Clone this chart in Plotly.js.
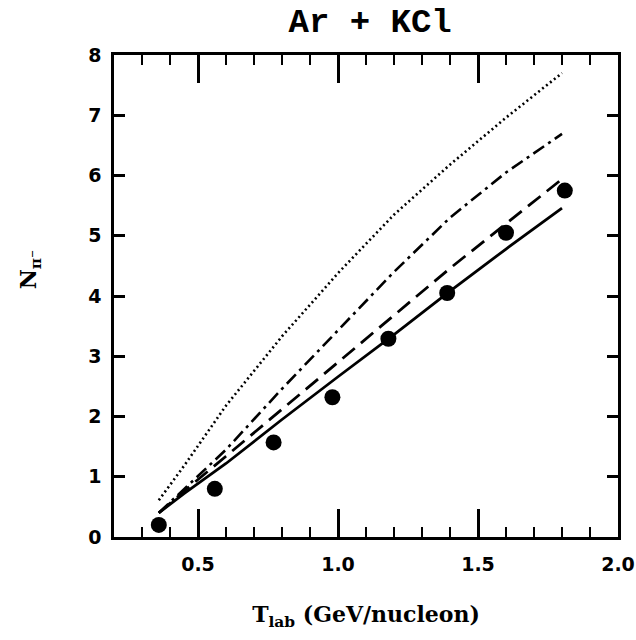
<!DOCTYPE html>
<html>
<head>
<meta charset="utf-8">
<script src="https://cdn.plot.ly/plotly-3.0.1.min.js"></script>
<style>html,body{margin:0;padding:0;background:#fff;}#chart{width:636px;height:640px;}</style>
</head>
<body>
<div id="chart"></div>
<script>
// Measured data (black circles)
const dataX = [0.36, 0.56, 0.77, 0.98, 1.18, 1.39, 1.60, 1.81];
const dataY = [0.20, 0.80, 1.57, 2.32, 3.29, 4.05, 5.05, 5.75];

// Model curves
const curveX = [0.36, 0.45, 0.6, 0.8, 1.0, 1.2, 1.4, 1.6, 1.8];
const solidY   = [0.40, 0.72, 1.22, 1.95, 2.66, 3.36, 4.08, 4.78, 5.46];
const dashedY  = [0.40, 0.76, 1.34, 2.12, 2.90, 3.68, 4.46, 5.20, 5.94];
const dashDotY = [0.40, 0.80, 1.45, 2.46, 3.43, 4.40, 5.30, 6.05, 6.69];
const dottedY  = [0.61, 1.18, 2.18, 3.33, 4.38, 5.35, 6.18, 6.96, 7.70];

// Axes
const xRange = [0.2, 2.0];
const yRange = [0, 8];

const black = '#000';
const traces = [
  {x: curveX, y: dottedY, mode: 'lines', line: {color: black, width: 2.6, dash: '2px,3px'}, hoverinfo: 'skip'},
  {x: curveX, y: dashDotY, mode: 'lines', line: {color: black, width: 2.6, dash: '13px,5px,3px,5px'}, hoverinfo: 'skip'},
  {x: curveX, y: dashedY, mode: 'lines', line: {color: black, width: 2.8, dash: '16px,8px'}, hoverinfo: 'skip'},
  {x: curveX, y: solidY, mode: 'lines', line: {color: black, width: 2.8}, hoverinfo: 'skip'},
  {x: dataX, y: dataY, mode: 'markers', marker: {color: black, size: 16, symbol: 'circle'}}
];

const tickFont = {family: '"DejaVu Sans", "Liberation Sans", sans-serif', size: 19, color: black, weight: 'bold'};
const labelFont = {family: '"DejaVu Serif", "Liberation Serif", serif', size: 22, color: black, weight: 'bold'};

const layout = {
  width: 636, height: 640,
  margin: {l: 114, r: 18, t: 55, b: 103},
  paper_bgcolor: '#fff', plot_bgcolor: '#fff',
  showlegend: false,
  title: {
    text: 'Ar + KCl',
    font: {family: '"Liberation Mono", "DejaVu Sans Mono", monospace', size: 34, color: black, weight: 'bold'},
    x: 0.582, xanchor: 'center', xref: 'container',
    y: 0.968, yanchor: 'middle', yref: 'container'
  },
  xaxis: {
    range: xRange,
    tickmode: 'linear', tick0: 0.5, dtick: 0.5, tickformat: '.1f',
    ticks: 'inside', ticklen: 28, tickwidth: 2.5, tickcolor: black,
    minor: {tickmode: 'linear', tick0: 0, dtick: 0.1, ticks: 'inside', ticklen: 10, tickwidth: 2, tickcolor: black, showgrid: false},
    showline: true, linecolor: black, linewidth: 2.5, mirror: 'ticks',
    showgrid: false, zeroline: false,
    tickfont: tickFont,
    ticklabelstandoff: 8,
    title: {text: 'T<sub>lab</sub> (GeV/nucleon)', font: labelFont, standoff: 34}
  },
  yaxis: {
    range: yRange,
    tickmode: 'linear', tick0: 0, dtick: 1,
    ticks: 'inside', ticklen: 11, tickwidth: 2.5, tickcolor: black,
    showline: true, linecolor: black, linewidth: 2.5, mirror: 'ticks',
    showgrid: false, zeroline: false,
    tickfont: tickFont,
    ticklabelstandoff: 6
  },
  annotations: [{
    text: 'N<sub>π⁻</sub>',
    font: labelFont,
    textangle: -90,
    xref: 'paper', yref: 'paper',
    x: -0.165, y: 0.555, xanchor: 'center', yanchor: 'middle',
    showarrow: false
  }]
};

Plotly.newPlot('chart', traces, layout, {displayModeBar: false});
</script>
</body>
</html>
